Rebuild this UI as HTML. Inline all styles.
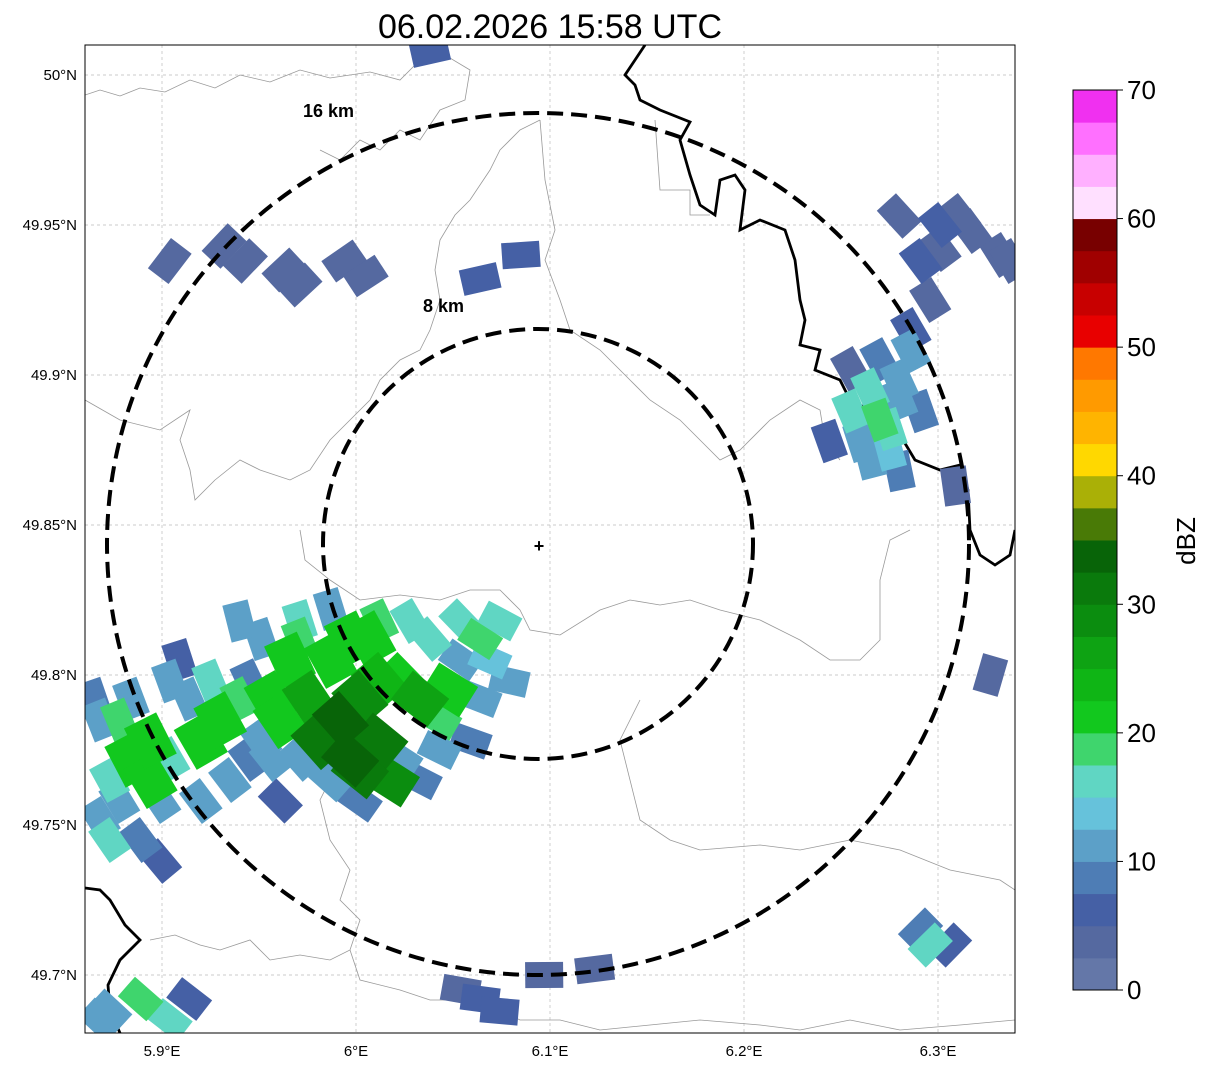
<!DOCTYPE html>
<html><head><meta charset="utf-8">
<style>
body{margin:0;background:#fff;width:1207px;height:1069px;overflow:hidden;font-family:"Liberation Sans","DejaVu Sans",sans-serif;}
svg{position:absolute;left:0;top:0}
</style></head>
<body>
<svg id="chart" width="1207" height="1069">
<defs><clipPath id="plotclip"><rect x="85" y="45" width="930" height="988"/></clipPath></defs>
<text x="550" y="38" font-size="34" text-anchor="middle">06.02.2026 15:58 UTC</text>
<g id="grid"></g>
<g clip-path="url(#plotclip)">
<g id="borders" fill="none">
<path d="M85,95 L100,90 L120,96 L140,88 L165,92 L190,80 L215,88 L240,75 L270,82 L300,70 L330,78 L370,72 L400,80 L420,60 L450,58 L470,70 L465,100 L440,110 L420,140 L400,130 L380,150 L360,140 L340,160 L320,150" stroke="#999" stroke-width="0.8"/>
<path d="M540,120 L520,130 L500,150 L490,170 L470,200 L455,215 L440,240 L435,270 L440,300 L430,330 L420,350 L400,360 L380,380 L370,400 L350,420 L330,440 L310,470 L290,480 L260,470 L240,460 L215,480 L195,500 L190,470 L180,440 L190,410 L160,430 L120,420 L85,400" stroke="#999" stroke-width="0.8"/>
<path d="M540,120 L545,180 L555,230 L545,260 L560,300 L570,330 L600,350 L630,380 L650,400 L680,420 L700,440 L720,460 L740,450 L770,420 L800,400 L820,410 L825,440 L840,460" stroke="#999" stroke-width="0.8"/>
<path d="M300,530 L305,560 L330,580 L360,600 L400,595 L440,600 L470,590 L500,590 L520,610 L530,630 L560,635 L600,610 L630,600 L660,605 L690,600 L720,610 L760,620 L800,640 L830,660 L860,660 L880,640 L880,580 L890,540 L910,530" stroke="#999" stroke-width="0.8"/>
<path d="M360,730 L340,760 L320,800 L330,840 L350,870 L340,900 L360,920 L350,950 L330,960 L300,955 L270,960 L250,940 L220,950 L200,945 L175,935 L150,940" stroke="#999" stroke-width="0.8"/>
<path d="M350,950 L360,980 L400,990 L430,1000 L480,1000 L520,1020 L560,1020 L600,1030 L650,1025 L700,1020 L760,1025 L800,1030 L850,1020 L900,1030 L960,1025 L1015,1020" stroke="#999" stroke-width="0.8"/>
<path d="M640,700 L620,740 L630,780 L640,820 L670,840 L700,850 L760,845 L800,850 L850,840 L900,850 L950,870 L1000,880 L1015,890" stroke="#999" stroke-width="0.8"/>
<path d="M655,120 L660,190 L690,190 L690,215 L710,215" stroke="#999" stroke-width="0.8"/>
<path d="M645,45 L635,60 L625,75 L635,85 L640,100 L660,110 L690,122 L680,140 L690,175 L700,205 L715,215 L720,180 L735,175 L745,190 L740,230 L760,220 L785,230 L795,260 L800,300 L805,320 L800,345 L820,350 L815,370 L840,380 L850,400 L870,410 L880,420 L900,435 L915,460 L940,470 L960,465 L968,490 L970,530 L980,555 L995,565 L1010,555 L1015,530" stroke="#000" stroke-width="2.8"/>
<path d="M85,888 L100,890 L110,900 L125,925 L140,940 L120,960 L108,985 L110,1010 L120,1033" stroke="#000" stroke-width="2.8"/>
</g>
<g id="cells"></g>
</g>
<g fill="none" stroke="#000" stroke-width="4" stroke-dasharray="16,8">
<circle cx="538" cy="544" r="431"/>
<circle cx="538" cy="544" r="215"/>
</g>
<text x="303" y="117" font-size="18" font-weight="bold">16 km</text>
<text x="423" y="312" font-size="18" font-weight="bold">8 km</text>
<text x="539" y="552" font-size="18" font-weight="bold" text-anchor="middle">+</text>
<rect x="85" y="45" width="930" height="988" fill="none" stroke="#000" stroke-width="1"/>
<g id="axes" font-size="15"></g>
<g id="cbar"></g>
<text transform="translate(1195,541) rotate(-90)" font-size="26" text-anchor="middle">dBZ</text>
</svg>
<script>
const lonTicks=[5.9,6.0,6.1,6.2,6.3];
const lonLabels=["5.9°E","6°E","6.1°E","6.2°E","6.3°E"];
const latTicks=[50.0,49.95,49.9,49.85,49.8,49.75,49.7];
const latLabels=["50°N","49.95°N","49.9°N","49.85°N","49.8°N","49.75°N","49.7°N"];
const cbTicks=[0,10,20,30,40,50,60,70];
const cbColors=["#6477a8","#5569a0","#4560a5","#4e7db5","#5ca0c8","#66c2db","#60d6c3","#3fd56d","#12c81e","#0fb515","#0ea313","#0b8d0f","#0a7a0c","#086408","#497a06","#aab006","#ffd800","#ffb400","#ff9a00","#ff7800","#e80000","#c80000","#a00000","#780000","#ffe0ff","#ffb0ff","#ff70ff","#f030f0"];
const cellLon=[5.868,5.873,5.868,5.884,5.894,5.899,5.889,5.914,5.920,5.930,5.935,5.945,5.951,5.956,5.966,5.971,5.976,5.981,5.992,5.997,6.002,6.012,6.007,6.023,6.033,6.023,6.043,6.038,6.054,6.064,6.074,6.079,6.002,6.033,5.940,5.961,5.909,6.059,5.987,6.012,6.048,5.971,5.945,5.920,5.878,
5.865,5.884,5.904,5.925,5.940,5.951,5.961,5.971,5.987,5.997,6.012,6.028,6.054,6.069,6.064,6.043,6.002,6.018,5.987,5.956,5.904,5.894,5.878,5.873,5.899,
5.873,5.889,5.904,5.914,5.868,6.064,6.074,6.097,6.123,6.054,
6.291,6.296,6.306,6.327,
6.280,6.301,6.317,6.332,6.291,6.296,6.286,6.270,6.265,6.280,6.255,6.255,6.270,6.275,6.244,6.280,6.309,6.260,6.286,6.280,6.275,6.265,6.291,6.301,6.311,6.337,
5.904,5.932,5.943,5.963,5.971,5.994,6.005,6.064,6.085,6.038];
const cellLat=[49.785,49.765,49.752,49.772,49.778,49.758,49.745,49.792,49.778,49.785,49.765,49.798,49.812,49.792,49.805,49.818,49.792,49.778,49.785,49.772,49.792,49.778,49.812,49.798,49.792,49.772,49.785,49.812,49.805,49.812,49.818,49.798,49.758,49.765,49.818,49.758,49.805,49.778,49.805,49.798,49.795,49.772,49.772,49.758,49.785,
49.792,49.792,49.798,49.798,49.792,49.778,49.785,49.812,49.822,49.812,49.818,49.818,49.818,49.805,49.792,49.775,49.768,49.765,49.765,49.772,49.772,49.765,49.758,49.745,49.738,
49.688,49.692,49.685,49.692,49.685,49.692,49.688,49.700,49.702,49.695,
49.715,49.710,49.710,49.800,
49.953,49.950,49.948,49.940,49.938,49.925,49.915,49.905,49.895,49.898,49.902,49.888,49.885,49.875,49.878,49.868,49.863,49.878,49.908,49.892,49.882,49.872,49.888,49.942,49.953,49.938,
49.938,49.943,49.938,49.935,49.930,49.938,49.933,49.932,49.940,50.008];
const cellDbz=[12,15,10,20,22,12,8,10,20,22,12,8,12,20,22,15,25,32,33,34,28,30,20,22,25,10,18,15,12,18,15,10,8,8,12,5,5,8,20,24,20,10,8,10,18,
8,10,12,15,18,10,20,18,12,22,18,15,15,14,12,10,30,28,10,12,15,20,12,15,6,
12,18,15,5,10,5,5,3,3,4,
8,15,5,4,
3,5,4,3,5,3,5,8,15,12,4,15,18,14,5,8,3,12,10,12,15,12,8,4,4,4,
3,4,3,4,4,3,3,5,5,5];
const NS="http://www.w3.org/2000/svg";
const X=lon=>162+(lon-5.9)*1940;
const Y=lat=>75+(50-lat)*3000;
const CB=v=>990-v/70*900;
const cx0=X(6.095),cy0=Y(49.8435);
function mk(t,a,p){const e=document.createElementNS(NS,t);for(const k in a)e.setAttribute(k,a[k]);p.appendChild(e);return e;}
const grid=document.getElementById('grid'),axes=document.getElementById('axes');
lonTicks.forEach((v,i)=>{
 const l=mk('line',{x1:X(v),x2:X(v),y1:45,y2:1033,stroke:'#bbb','stroke-width':0.7,'stroke-dasharray':'3,3'},grid);
 
 
 const t=mk('text',{x:X(v),y:1056,'text-anchor':'middle'},axes);t.textContent=lonLabels[i];
 
 
});
latTicks.forEach((v,i)=>{
 const l=mk('line',{x1:85,x2:1015,y1:Y(v),y2:Y(v),stroke:'#bbb','stroke-width':0.7,'stroke-dasharray':'3,3'},grid);
 
 
 const t=mk('text',{x:77,y:Y(v)+5,'text-anchor':'end'},axes);t.textContent=latLabels[i];
 
 
});
const col=d=>cbColors[Math.max(0,Math.min(27,Math.floor(d/2.5)))];
const cells=document.getElementById('cells');
const idx=cellDbz.map((d,i)=>i).sort((a,b)=>cellDbz[a]-cellDbz[b]);
idx.forEach(i=>{
 const x=X(cellLon[i]),y=Y(cellLat[i]);
 const ang=Math.atan2(y-cy0,x-cx0)*180/Math.PI;
 const w=cellDbz[i]>=20?46:38,h=cellDbz[i]>=20?36:26;
 const r=mk('rect',{x:x-w/2,y:y-h/2,width:w,height:h,fill:col(cellDbz[i]),transform:`rotate(${ang+90} ${x} ${y})`},cells);
 
 
});
const cb=document.getElementById('cbar');
cbColors.forEach((c,i)=>{
 const r=mk('rect',{x:1073,y:CB((i+1)*2.5),width:44,height:900/28+0.5,fill:c},cb);
 
 
});
mk('rect',{x:1073,y:90,width:44,height:900,fill:'none',stroke:'#000','stroke-width':1},cb);
cbTicks.forEach(v=>{
 mk('line',{x1:1117,x2:1123,y1:CB(v),y2:CB(v),stroke:'#000'},cb);
 const t=mk('text',{x:1127,y:CB(v)+9,'font-size':26},cb);t.textContent=v;
 
 
});
</script>
</body></html>
